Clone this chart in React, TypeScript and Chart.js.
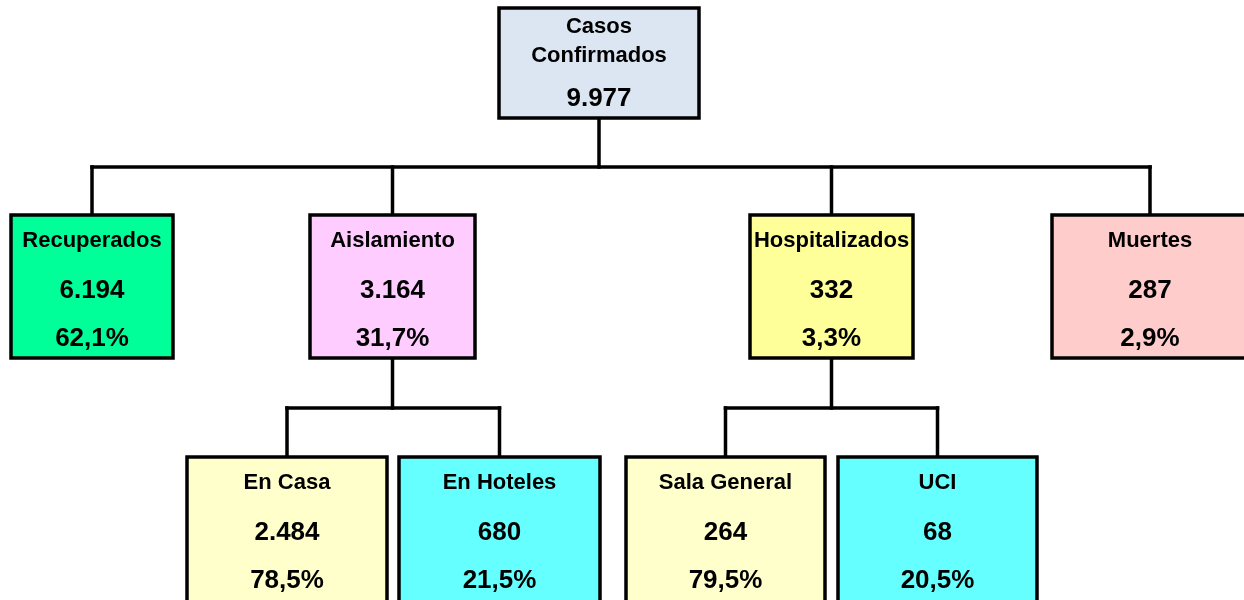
import React, { useEffect, useRef } from "react";
import { Chart, registerables } from "chart.js";

Chart.register(...registerables);

// ---- data ----
const nodeNames: string[] = [
  "Casos\nConfirmados",
  "Recuperados",
  "Aislamiento",
  "Hospitalizados",
  "Muertes",
  "En Casa",
  "En Hoteles",
  "Sala General",
  "UCI",
];
const nodeValues: number[] = [9977, 6194, 3164, 332, 287, 2484, 680, 264, 68];
const nodePercents: (number | null)[] = [null, 62.1, 31.7, 3.3, 2.9, 78.5, 21.5, 79.5, 20.5];
const nodeParents: number[] = [-1, 0, 0, 0, 0, 2, 2, 3, 3];

// ---- layout (chart units map 1:1 to pixels) ----
const boxLeft: number[] = [499, 11, 310, 750, 1052, 187, 399, 626, 838];
const boxRight: number[] = [699, 173, 475, 913, 1248, 387, 600, 825, 1037];
const boxTop: number[] = [8, 215, 215, 215, 215, 457, 457, 457, 457];
const boxBottom: number[] = [118, 358, 358, 358, 358, 640, 640, 640, 640];
const busY: Record<number, number> = { 0: 167, 2: 408, 3: 408 };

// ---- styles ----
const boxFill: string[] = [
  "#DCE6F2",
  "#00FF99",
  "#FFCCFF",
  "#FFFF99",
  "#FFCCCC",
  "#FFFFCC",
  "#66FFFF",
  "#FFFFCC",
  "#66FFFF",
];
const FONT = '"Liberation Sans", Arial, Helvetica, sans-serif';

const fmtInt = (v: number) => String(v).replace(/\B(?=(\d{3})+(?!\d))/g, ".");
const fmtPct = (v: number) => v.toFixed(1).replace(".", ",") + "%";
const cx = (i: number) => (boxLeft[i] + boxRight[i]) / 2;

function buildConnectors() {
  const segs: { x: number; y: number }[][] = [];
  const parents = Array.from(new Set(nodeParents.filter((p) => p >= 0)));
  parents.forEach((p) => {
    const kids = nodeParents.map((pp, i) => (pp === p ? i : -1)).filter((i) => i >= 0);
    const by = busY[p];
    segs.push([
      { x: cx(p), y: boxBottom[p] },
      { x: cx(p), y: by },
    ]);
    const xs = kids.map(cx);
    segs.push([
      { x: Math.min(...xs), y: by },
      { x: Math.max(...xs), y: by },
    ]);
    kids.forEach((k) => {
      segs.push([
        { x: cx(k), y: by },
        { x: cx(k), y: boxTop[k] },
      ]);
    });
  });
  return segs;
}

const boxPlugin = {
  id: "orgBoxes",
  afterDatasetsDraw(chart: any) {
    const { ctx, scales } = chart;
    const xs = scales.x;
    const ys = scales.y;
    ctx.save();
    nodeNames.forEach((name, i) => {
      const l = xs.getPixelForValue(boxLeft[i]);
      const r = xs.getPixelForValue(boxRight[i]);
      const t = ys.getPixelForValue(boxTop[i]);
      const b = ys.getPixelForValue(boxBottom[i]);
      ctx.fillStyle = boxFill[i];
      ctx.fillRect(l, t, r - l, b - t);
      ctx.strokeStyle = "#000";
      ctx.lineWidth = 3.5;
      ctx.strokeRect(l, t, r - l, b - t);

      const lines: { text: string; size: number; off: number }[] = [];
      const nameParts = name.split("\n");
      if (nodeParents[i] < 0) {
        nameParts.forEach((s, k) => lines.push({ text: s, size: 22, off: 17 + k * 29 }));
        lines.push({ text: fmtInt(nodeValues[i]), size: 26, off: 89 });
      } else {
        lines.push({ text: nameParts[0], size: 22, off: 24 });
        lines.push({ text: fmtInt(nodeValues[i]), size: 26, off: 74 });
        const p = nodePercents[i];
        if (p !== null) lines.push({ text: fmtPct(p), size: 26, off: 122 });
      }
      ctx.fillStyle = "#000";
      ctx.textAlign = "center";
      ctx.textBaseline = "alphabetic";
      const x = (l + r) / 2;
      lines.forEach((ln) => {
        ctx.font = `bold ${ln.size}px ${FONT}`;
        ctx.fillText(ln.text, x, t + ln.off + ln.size * 0.358);
      });
    });
    ctx.restore();
  },
};

export default function App() {
  const ref = useRef<HTMLCanvasElement | null>(null);
  useEffect(() => {
    if (!ref.current) return;
    const segs = buildConnectors();
    const chart = new Chart(ref.current, {
      type: "scatter",
      data: {
        datasets: segs.map((s) => ({
          data: s,
          showLine: true,
          borderColor: "#000",
          borderWidth: 3.5,
          borderCapStyle: "square" as const,
          pointRadius: 0,
          pointHoverRadius: 0,
          fill: false,
        })),
      },
      options: {
        animation: false,
        responsive: false,
        maintainAspectRatio: false,
        events: [],
        layout: { padding: 0 },
        plugins: { legend: { display: false }, tooltip: { enabled: false } },
        scales: {
          x: { type: "linear", min: 0, max: 1244, display: false },
          y: { type: "linear", min: 0, max: 600, reverse: true, display: false },
        },
      },
      plugins: [boxPlugin],
    });
    return () => chart.destroy();
  }, []);
  return (
    <div style={{ position: "fixed", left: 0, top: 0, width: 1244, height: 600, background: "#fff" }}>
      <canvas ref={ref} width={1244} height={600} style={{ display: "block" }} />
    </div>
  );
}
